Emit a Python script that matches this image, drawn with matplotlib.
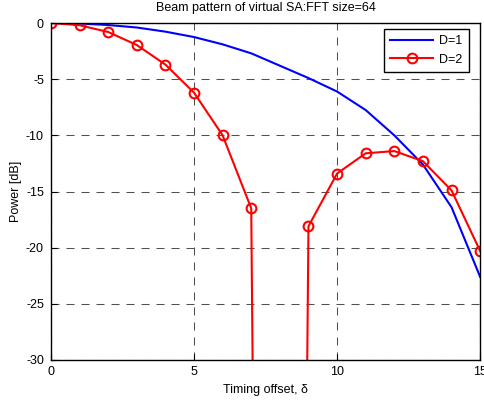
import numpy as np
import matplotlib.pyplot as plt

plt.rcParams['font.family'] = ['Liberation Sans', 'DejaVu Sans']
plt.rcParams['axes.unicode_minus'] = False

offset = np.arange(0, 16)
power_d1 = [0, -0.05, -0.18, -0.4, -0.77, -1.25, -1.9, -2.7, -3.8, -4.9,
            -6.1, -7.75, -10.0, -12.6, -16.4, -22.6]
# the D=2 pattern has a null at offset 8 (log of ~0)
power_d2 = [0, -0.2, -0.8, -1.96, -3.7, -6.2, -10.0, -16.5, -300, -18.1,
            -13.4, -11.6, -11.4, -12.3, -14.9, -20.3]

fig = plt.figure(figsize=(4.85, 4.0), dpi=100)
ax = fig.add_axes([0.105, 0.1, 0.885, 0.8425])

ax.plot(offset, power_d1, color='blue', lw=1.5, label='D=1')
ax.plot(offset, power_d2, color='red', lw=1.5, marker='o', markersize=7,
        markerfacecolor='none', markeredgewidth=1.5, label='D=2')

ax.set_xlim(0, 15)
ax.set_ylim(-30, 0)
ax.set_xticks([0, 5, 10, 15])
ax.set_yticks(np.arange(-30, 1, 5))
ax.grid(True, color='#505050', linestyle=(0, (7.7, 6.7)), linewidth=0.75)
ax.tick_params(direction='in', labelsize=9, length=4)
ax.tick_params(axis='x', pad=4)
ax.tick_params(axis='y', pad=5)
for s in ax.spines.values():
    s.set_linewidth(1.0)

ax.set_title('Beam pattern of virtual SA:FFT size=64', fontsize=9, pad=9)
ax.set_xlabel('Timing offset, δ', fontsize=9, labelpad=5)
ax.set_ylabel('Power [dB]', fontsize=9, labelpad=3)

leg = ax.legend(loc='upper right', bbox_to_anchor=(0.988, 1.0), fontsize=9,
                fancybox=False, edgecolor='black', framealpha=1,
                borderaxespad=0.5, handlelength=3.4, handletextpad=0.5,
                labelspacing=0.5, borderpad=0.5)
leg.get_frame().set_linewidth(1.0)

fig.savefig('out.png', dpi=100)
